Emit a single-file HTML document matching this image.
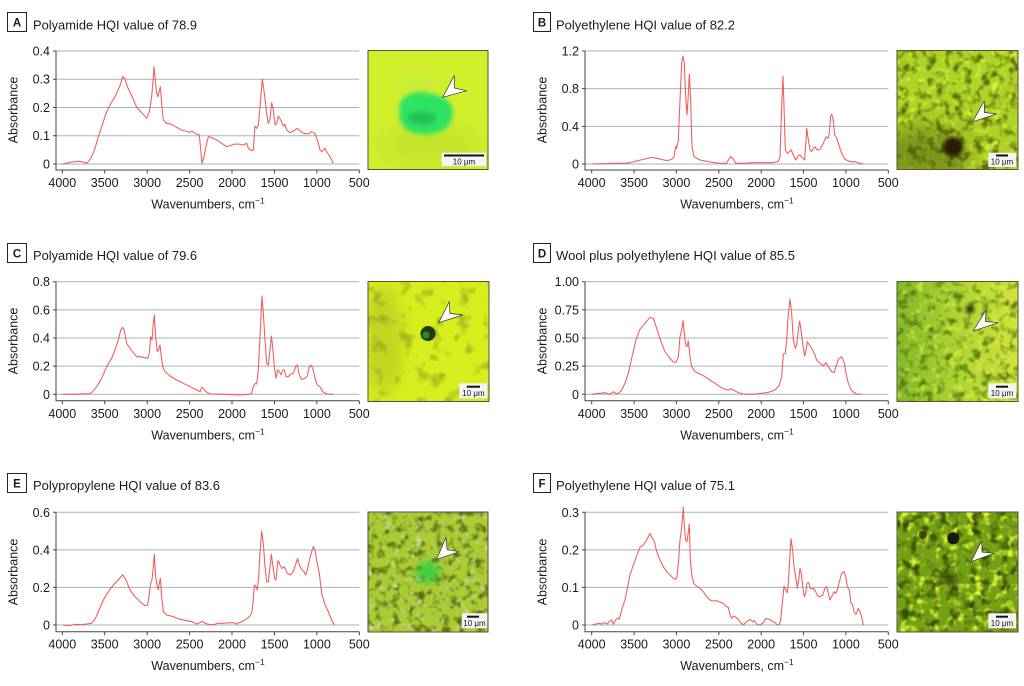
<!DOCTYPE html>
<html><head><meta charset="utf-8"><style>
html,body{margin:0;padding:0;background:#fff}
svg{display:block}
text{font-family:"Liberation Sans",sans-serif;fill:#1a1a1a}
.t{font-size:13px}
.lb{font-size:11.5px;font-weight:bold}
.tk{font-size:12.5px}
.ax{font-size:12.5px}
.g{stroke:#a3b3bb;stroke-width:1}
.a{stroke:#444;stroke-width:1;fill:none}
.s{fill:none;stroke:#f25c5c;stroke-width:3.2;stroke-linejoin:round}
.sb{font-size:8px;fill:#111}
filter{color-interpolation-filters:sRGB}
</style></head><body>
<svg width="1024" height="686" viewBox="0 0 1024 686" xmlns="http://www.w3.org/2000/svg">
<defs>
<filter id="bl2" x="-50%" y="-50%" width="200%" height="200%" color-interpolation-filters="sRGB"><feGaussianBlur stdDeviation="2"/></filter>
<filter id="bl4" x="-50%" y="-50%" width="200%" height="200%" color-interpolation-filters="sRGB"><feGaussianBlur stdDeviation="4"/></filter>
<filter id="bl7" x="-50%" y="-50%" width="200%" height="200%" color-interpolation-filters="sRGB"><feGaussianBlur stdDeviation="7"/></filter>
<filter id="bl10" x="-50%" y="-50%" width="200%" height="200%" color-interpolation-filters="sRGB"><feGaussianBlur stdDeviation="10"/></filter>
<filter id="dkB" x="0" y="0" width="1" height="1" color-interpolation-filters="sRGB"><feTurbulence type="fractalNoise" baseFrequency="0.11" numOctaves="2" seed="3"/><feColorMatrix type="matrix" values="0 0 0 0 0.36  0 0 0 0 0.44  0 0 0 0 0.04  3.5 0 0 0 -1.65"/></filter>
<filter id="ltB" x="0" y="0" width="1" height="1" color-interpolation-filters="sRGB"><feTurbulence type="fractalNoise" baseFrequency="0.12" numOctaves="2" seed="9"/><feColorMatrix type="matrix" values="0 0 0 0 0.82  0 0 0 0 0.94  0 0 0 0 0.2  0 4 0 0 -2.2"/></filter>
<filter id="dkC" x="0" y="0" width="1" height="1" color-interpolation-filters="sRGB"><feTurbulence type="fractalNoise" baseFrequency="0.07" numOctaves="2" seed="5"/><feColorMatrix type="matrix" values="0 0 0 0 0.6  0 0 0 0 0.6  0 0 0 0 0.12  3.5 0 0 0 -1.9"/></filter>
<filter id="dkD" x="0" y="0" width="1" height="1" color-interpolation-filters="sRGB"><feTurbulence type="fractalNoise" baseFrequency="0.11" numOctaves="2" seed="7"/><feColorMatrix type="matrix" values="0 0 0 0 0.3  0 0 0 0 0.45  0 0 0 0 0.05  3.5 0 0 0 -1.7"/></filter>
<filter id="ltD" x="0" y="0" width="1" height="1" color-interpolation-filters="sRGB"><feTurbulence type="fractalNoise" baseFrequency="0.12" numOctaves="2" seed="21"/><feColorMatrix type="matrix" values="0 0 0 0 0.86  0 0 0 0 0.95  0 0 0 0 0.25  0 4 0 0 -2.2"/></filter>
<filter id="dkE" x="0" y="0" width="1" height="1" color-interpolation-filters="sRGB"><feTurbulence type="fractalNoise" baseFrequency="0.12" numOctaves="2" seed="11"/><feColorMatrix type="matrix" values="0 0 0 0 0.38  0 0 0 0 0.45  0 0 0 0 0.08  3.5 0 0 0 -1.7"/></filter>
<filter id="ltE" x="0" y="0" width="1" height="1" color-interpolation-filters="sRGB"><feTurbulence type="fractalNoise" baseFrequency="0.13" numOctaves="2" seed="13"/><feColorMatrix type="matrix" values="0 0 0 0 0.8  0 0 0 0 0.83  0 0 0 0 0.7  0 4 0 0 -2.4"/></filter>
<filter id="dkF" x="0" y="0" width="1" height="1" color-interpolation-filters="sRGB"><feTurbulence type="fractalNoise" baseFrequency="0.1" numOctaves="2" seed="17"/><feColorMatrix type="matrix" values="0 0 0 0 0.2  0 0 0 0 0.3  0 0 0 0 0.02  3.5 0 0 0 -1.7"/></filter>
<filter id="ltF" x="0" y="0" width="1" height="1" color-interpolation-filters="sRGB"><feTurbulence type="fractalNoise" baseFrequency="0.12" numOctaves="2" seed="19"/><feColorMatrix type="matrix" values="0 0 0 0 0.85  0 0 0 0 0.95  0 0 0 0 0.2  0 4 0 0 -2.1"/></filter>
<linearGradient id="gD" x1="0" y1="0" x2="1" y2="0"><stop offset="0" stop-color="#82b82a"/><stop offset="0.45" stop-color="#aad232"/><stop offset="1" stop-color="#d2e23a"/></linearGradient>
<clipPath id="cA"><rect x="368" y="50.5" width="120" height="119"/></clipPath>
<clipPath id="cB"><rect x="897" y="50.5" width="121" height="119"/></clipPath>
<clipPath id="cC"><rect x="368" y="281.5" width="121" height="120"/></clipPath>
<clipPath id="cD"><rect x="897" y="281.5" width="121" height="120"/></clipPath>
<clipPath id="cE"><rect x="368" y="512" width="120" height="120"/></clipPath>
<clipPath id="cF"><rect x="897" y="512" width="121" height="120"/></clipPath>
</defs>
<rect width="1024" height="686" fill="#fff"/>

<!-- ============ PANEL A ============ -->
<rect x="7.5" y="12.5" width="19" height="19" fill="#fff" stroke="#222"/>
<text class="lb" x="17" y="26.5" text-anchor="middle">A</text>
<text class="t" x="33" y="29.3" textLength="164" lengthAdjust="spacingAndGlyphs">Polyamide HQI value of 78.9</text>
<g>
<line class="g" x1="56" x2="359.3" y1="51" y2="51"/><line class="g" x1="56" x2="359.3" y1="79.25" y2="79.25"/><line class="g" x1="56" x2="359.3" y1="107.5" y2="107.5"/><line class="g" x1="56" x2="359.3" y1="135.75" y2="135.75"/><line class="g" x1="56" x2="359.3" y1="164" y2="164"/>
<path class="a" d="M56,51V170H359.3M53,51H56M53,79.25H56M53,107.5H56M53,135.75H56M53,164H56M62.3,170v3.5M104.7,170v3.5M147.2,170v3.5M189.6,170v3.5M232,170v3.5M274.5,170v3.5M316.9,170v3.5M359.3,170v3.5"/>
<g class="tk" text-anchor="end"><text x="50" y="55.5">0.4</text><text x="50" y="83.7">0.3</text><text x="50" y="112">0.2</text><text x="50" y="140.2">0.1</text><text x="50" y="168.5">0</text></g>
<g class="tk" text-anchor="middle"><text x="62.3" y="187">4000</text><text x="104.7" y="187">3500</text><text x="147.2" y="187">3000</text><text x="189.6" y="187">2500</text><text x="232" y="187">2000</text><text x="274.5" y="187">1500</text><text x="316.9" y="187">1000</text><text x="359.3" y="187">500</text></g>
<text class="ax" transform="translate(17.5,110) rotate(-90)" text-anchor="middle">Absorbance</text>
<text class="ax" x="208" y="208.5" text-anchor="middle">Wavenumbers, cm<tspan font-size="8.5" dy="-5">−1</tspan></text>
<g transform="translate(0,0) scale(0.33333)"><polyline class="s" points="187,492 215,486 240,484 255,488 262,489 275,470 285,445 295,410 305,380 318,340 330,315 345,290 360,258 368,230 375,236 382,260 395,287 410,322 425,338 440,355 448,335 455,290 460,232 462,200 466,240 470,280 474,290 478,272 481,260 485,310 490,360 500,370 515,373 530,382 545,390 560,394 570,397 575,393 585,400 598,405 606,490 612,470 620,430 625,410 635,413 650,420 665,430 680,440 690,437 700,433 715,432 730,435 740,430 745,445 755,452 760,450 765,378 770,385 775,375 780,320 787,237 793,280 800,340 805,370 810,358 815,308 820,330 825,375 830,370 835,348 842,360 850,378 855,373 860,390 870,398 880,393 893,385 900,393 912,400 925,402 935,395 945,400 955,430 960,450 965,455 970,450 975,445 980,455 990,470 1000,490"/></g>
</g>
<g clip-path="url(#cA)">
<rect x="368" y="50.5" width="120" height="119" fill="#d2ef2c"/>
<ellipse cx="430" cy="145" rx="50" ry="22" fill="#b4d82c" opacity="0.45" filter="url(#bl10)"/>
<ellipse cx="418" cy="84" rx="22" ry="12" fill="#b8e850" opacity="0.35" filter="url(#bl7)"/>
<path d="M400,104 C404,92 420,90 432,94 C446,96 456,104 452,118 C450,130 436,136 420,134 C406,133 396,124 400,104 Z" fill="#2ee262" filter="url(#bl2)"/>
<ellipse cx="422" cy="118" rx="14" ry="6" fill="#18a84c" opacity="0.6" filter="url(#bl2)"/>
</g>
<rect x="368" y="50.5" width="120" height="119" fill="none" stroke="#55553a"/>
<polygon points="442.7,97.3 454.3,75.3 454.3,88 466.7,90.7" fill="#fff" stroke="#333" stroke-width="0.7"/>
<rect x="441.7" y="152.7" width="44.3" height="13.3" fill="#f4f4f4"/>
<line x1="444" x2="484" y1="155.5" y2="155.5" stroke="#111" stroke-width="2"/>
<text class="sb" x="464" y="164.3" text-anchor="middle">10 μm</text>

<!-- ============ PANEL B ============ -->
<rect x="533.5" y="12.5" width="17" height="19" fill="#fff" stroke="#222"/>
<text class="lb" x="542" y="26.5" text-anchor="middle">B</text>
<text class="t" x="556" y="29.3" textLength="179" lengthAdjust="spacingAndGlyphs">Polyethylene HQI value of 82.2</text>
<g>
<line class="g" x1="585" x2="888.3" y1="51" y2="51"/><line class="g" x1="585" x2="888.3" y1="88.67" y2="88.67"/><line class="g" x1="585" x2="888.3" y1="126.33" y2="126.33"/><line class="g" x1="585" x2="888.3" y1="164" y2="164"/>
<path class="a" d="M585,51V170H888.3M582,51H585M582,88.67H585M582,126.33H585M582,164H585M591.7,170v3.5M634.1,170v3.5M676.4,170v3.5M718.8,170v3.5M761.2,170v3.5M803.5,170v3.5M845.9,170v3.5M888.3,170v3.5"/>
<g class="tk" text-anchor="end"><text x="579" y="55.5">1.2</text><text x="579" y="93.2">0.8</text><text x="579" y="130.8">0.4</text><text x="579" y="168.5">0</text></g>
<g class="tk" text-anchor="middle"><text x="591.7" y="187">4000</text><text x="634.1" y="187">3500</text><text x="676.4" y="187">3000</text><text x="718.8" y="187">2500</text><text x="761.2" y="187">2000</text><text x="803.5" y="187">1500</text><text x="845.9" y="187">1000</text><text x="888.3" y="187">500</text></g>
<text class="ax" transform="translate(546.5,110) rotate(-90)" text-anchor="middle">Absorbance</text>
<text class="ax" x="737" y="208.5" text-anchor="middle">Wavenumbers, cm<tspan font-size="8.5" dy="-5">−1</tspan></text>
<g transform="translate(530,0) scale(0.33333)"><polyline class="s" points="185,492 220,491 250,490 280,490 300,488 320,483 340,478 365,472 385,476 410,482 425,478 432,470 437,440 440,445 445,420 450,300 455,190 459,168 463,190 467,290 471,345 474,300 478,222 482,300 486,440 492,470 510,480 540,486 570,490 590,490 598,475 603,470 608,475 612,480 617,490 640,490 670,488 700,488 730,488 745,484 750,470 755,320 759,228 762,320 766,450 772,460 778,455 784,450 790,465 797,480 805,467 810,465 818,475 824,480 828,420 830,385 835,420 840,450 845,455 850,445 855,440 860,448 868,450 875,440 882,425 888,410 894,415 898,400 902,350 905,343 910,360 914,405 918,410 922,420 928,440 935,460 945,478 960,485 975,485 990,490 1000,492"/></g>
</g>
<g clip-path="url(#cB)">
<rect x="897" y="50.5" width="121" height="119" fill="#aed226"/>
<rect x="897" y="50.5" width="121" height="119" filter="url(#dkB)"/>
<rect x="897" y="50.5" width="121" height="119" filter="url(#ltB)"/>
<ellipse cx="925" cy="155" rx="45" ry="30" fill="#4a5a10" opacity="0.5" filter="url(#bl10)"/>
<circle cx="953" cy="147" r="10" fill="#2a1a08" filter="url(#bl2)"/>
</g>
<rect x="897" y="50.5" width="121" height="119" fill="none" stroke="#55553a"/>
<polygon points="972.7,121.7 984.3,100.7 984.3,112.4 996.7,114" fill="#fff" stroke="#333" stroke-width="0.7"/>
<rect x="988.3" y="152.7" width="27.7" height="14.3" fill="#f4f4f4"/>
<line x1="996" x2="1008" y1="155.5" y2="155.5" stroke="#111" stroke-width="2"/>
<text class="sb" x="1002" y="164.5" text-anchor="middle">10 μm</text>

<!-- ============ PANEL C ============ -->
<rect x="7.5" y="243.5" width="19" height="19" fill="#fff" stroke="#222"/>
<text class="lb" x="17" y="257.5" text-anchor="middle">C</text>
<text class="t" x="33" y="260" textLength="164" lengthAdjust="spacingAndGlyphs">Polyamide HQI value of 79.6</text>
<g>
<line class="g" x1="56" x2="359.3" y1="281.7" y2="281.7"/><line class="g" x1="56" x2="359.3" y1="309.85" y2="309.85"/><line class="g" x1="56" x2="359.3" y1="338" y2="338"/><line class="g" x1="56" x2="359.3" y1="366.15" y2="366.15"/><line class="g" x1="56" x2="359.3" y1="394.3" y2="394.3"/>
<path class="a" d="M56,281.7V400.7H359.3M53,281.7H56M53,309.85H56M53,338H56M53,366.15H56M53,394.3H56M62.3,400.7v3.5M104.7,400.7v3.5M147.2,400.7v3.5M189.6,400.7v3.5M232,400.7v3.5M274.5,400.7v3.5M316.9,400.7v3.5M359.3,400.7v3.5"/>
<g class="tk" text-anchor="end"><text x="50" y="286.2">0.8</text><text x="50" y="314.4">0.6</text><text x="50" y="342.5">0.4</text><text x="50" y="370.7">0.2</text><text x="50" y="398.8">0</text></g>
<g class="tk" text-anchor="middle"><text x="62.3" y="418">4000</text><text x="104.7" y="418">3500</text><text x="147.2" y="418">3000</text><text x="189.6" y="418">2500</text><text x="232" y="418">2000</text><text x="274.5" y="418">1500</text><text x="316.9" y="418">1000</text><text x="359.3" y="418">500</text></g>
<text class="ax" transform="translate(17.5,341) rotate(-90)" text-anchor="middle">Absorbance</text>
<text class="ax" x="208" y="439.5" text-anchor="middle">Wavenumbers, cm<tspan font-size="8.5" dy="-5">−1</tspan></text>
<g transform="translate(0,230) scale(0.33333)"><polyline class="s" points="187,493 230,493 255,491 265,492 275,488 290,470 305,445 320,410 335,385 345,360 355,330 362,300 368,292 372,298 380,340 390,355 400,368 410,380 420,380 430,382 443,385 448,370 452,320 456,330 460,280 463,255 467,320 472,365 476,360 480,345 484,380 488,410 495,425 510,438 530,450 550,460 570,470 590,480 600,485 605,472 610,475 618,485 630,492 680,493 720,495 745,493 755,490 760,470 766,460 770,462 775,420 780,320 786,198 790,250 795,330 800,400 805,405 810,360 814,318 818,350 823,410 828,445 833,420 838,425 843,435 848,420 853,420 858,440 865,440 873,432 880,430 888,408 892,405 898,435 905,448 915,445 922,438 928,410 933,405 940,420 945,445 952,465 960,470 968,485 980,492 1000,493"/></g>
</g>
<g clip-path="url(#cC)">
<rect x="368" y="281.5" width="121" height="120" fill="#d6ee1e"/>
<rect x="368" y="281.5" width="121" height="120" filter="url(#dkC)" opacity="0.8"/>
<ellipse cx="383" cy="340" rx="20" ry="55" fill="#9a9a2a" opacity="0.3" filter="url(#bl7)"/>
<circle cx="428" cy="333.5" r="7.5" fill="#1e3a10"/>
<circle cx="426" cy="335" r="3.5" fill="#3a9a30" opacity="0.8"/>
</g>
<rect x="368" y="281.5" width="121" height="120" fill="none" stroke="#55553a"/>
<polygon points="438.7,322.7 449.3,301.7 449.9,313.4 462.7,315" fill="#fff" stroke="#333" stroke-width="0.7"/>
<rect x="459.3" y="383.3" width="28" height="15" fill="#f4f4f4"/>
<line x1="466.7" x2="480" y1="386.7" y2="386.7" stroke="#111" stroke-width="2"/>
<text class="sb" x="473.5" y="396" text-anchor="middle">10 μm</text>

<!-- ============ PANEL D ============ -->
<rect x="533.5" y="243.5" width="17" height="19" fill="#fff" stroke="#222"/>
<text class="lb" x="542" y="257.5" text-anchor="middle">D</text>
<text class="t" x="556" y="260" textLength="239" lengthAdjust="spacingAndGlyphs">Wool plus polyethylene HQI value of 85.5</text>
<g>
<line class="g" x1="585" x2="888.3" y1="281.7" y2="281.7"/><line class="g" x1="585" x2="888.3" y1="309.85" y2="309.85"/><line class="g" x1="585" x2="888.3" y1="338" y2="338"/><line class="g" x1="585" x2="888.3" y1="366.15" y2="366.15"/><line class="g" x1="585" x2="888.3" y1="394.3" y2="394.3"/>
<path class="a" d="M585,281.7V400.7H888.3M582,281.7H585M582,309.85H585M582,338H585M582,366.15H585M582,394.3H585M591.7,400.7v3.5M634.1,400.7v3.5M676.4,400.7v3.5M718.8,400.7v3.5M761.2,400.7v3.5M803.5,400.7v3.5M845.9,400.7v3.5M888.3,400.7v3.5"/>
<g class="tk" text-anchor="end"><text x="579" y="286.2">1.00</text><text x="579" y="314.4">0.75</text><text x="579" y="342.5">0.50</text><text x="579" y="370.7">0.25</text><text x="579" y="398.8">0</text></g>
<g class="tk" text-anchor="middle"><text x="591.7" y="418">4000</text><text x="634.1" y="418">3500</text><text x="676.4" y="418">3000</text><text x="718.8" y="418">2500</text><text x="761.2" y="418">2000</text><text x="803.5" y="418">1500</text><text x="845.9" y="418">1000</text><text x="888.3" y="418">500</text></g>
<text class="ax" transform="translate(546.5,341) rotate(-90)" text-anchor="middle">Absorbance</text>
<text class="ax" x="737" y="439.5" text-anchor="middle">Wavenumbers, cm<tspan font-size="8.5" dy="-5">−1</tspan></text>
<g transform="translate(530,230) scale(0.33333)"><polyline class="s" points="185,493 210,490 225,488 240,493 250,485 260,492 272,485 285,460 295,430 305,385 318,330 330,298 345,280 360,262 370,265 380,295 393,335 405,365 420,385 430,396 438,397 445,380 450,320 455,300 459,272 463,310 467,345 471,350 475,333 480,380 485,410 495,425 510,432 525,440 540,450 555,460 570,470 585,478 595,480 603,476 610,480 625,488 645,493 670,493 695,490 715,487 735,480 748,466 755,440 760,372 766,370 770,330 775,250 780,207 785,250 790,330 796,355 800,345 805,300 809,273 813,300 818,340 824,378 828,360 832,335 838,345 845,355 850,365 855,375 860,390 870,400 880,408 888,398 895,410 905,425 912,428 918,410 925,388 935,380 942,395 948,430 955,460 965,482 980,492 995,493"/></g>
</g>
<g clip-path="url(#cD)">
<rect x="897" y="281.5" width="121" height="120" fill="url(#gD)"/>
<rect x="897" y="281.5" width="121" height="120" filter="url(#dkD)" opacity="0.85"/>
<rect x="897" y="281.5" width="121" height="120" filter="url(#ltD)" opacity="0.7"/>
<circle cx="970" cy="309" r="4" fill="#1a1a08" filter="url(#bl2)"/>
</g>
<rect x="897" y="281.5" width="121" height="120" fill="none" stroke="#55553a"/>
<polygon points="973.3,331 986,310 985.5,321.5 998.3,322.7" fill="#fff" stroke="#333" stroke-width="0.7"/>
<rect x="988.3" y="383.3" width="27.7" height="15" fill="#f4f4f4"/>
<line x1="996" x2="1008" y1="386.7" y2="386.7" stroke="#111" stroke-width="2"/>
<text class="sb" x="1002" y="396" text-anchor="middle">10 μm</text>

<!-- ============ PANEL E ============ -->
<rect x="7.5" y="473.5" width="19" height="19" fill="#fff" stroke="#222"/>
<text class="lb" x="17" y="487.5" text-anchor="middle">E</text>
<text class="t" x="33" y="490" textLength="187" lengthAdjust="spacingAndGlyphs">Polypropylene HQI value of 83.6</text>
<g>
<line class="g" x1="56" x2="359.3" y1="512.3" y2="512.3"/><line class="g" x1="56" x2="359.3" y1="549.87" y2="549.87"/><line class="g" x1="56" x2="359.3" y1="587.43" y2="587.43"/><line class="g" x1="56" x2="359.3" y1="625" y2="625"/>
<path class="a" d="M56,512.3V631.7H359.3M53,512.3H56M53,549.87H56M53,587.43H56M53,625H56M62.3,631.7v3.5M104.7,631.7v3.5M147.2,631.7v3.5M189.6,631.7v3.5M232,631.7v3.5M274.5,631.7v3.5M316.9,631.7v3.5M359.3,631.7v3.5"/>
<g class="tk" text-anchor="end"><text x="50" y="516.8">0.6</text><text x="50" y="554.4">0.4</text><text x="50" y="592">0.2</text><text x="50" y="629.5">0</text></g>
<g class="tk" text-anchor="middle"><text x="62.3" y="648.5">4000</text><text x="104.7" y="648.5">3500</text><text x="147.2" y="648.5">3000</text><text x="189.6" y="648.5">2500</text><text x="232" y="648.5">2000</text><text x="274.5" y="648.5">1500</text><text x="316.9" y="648.5">1000</text><text x="359.3" y="648.5">500</text></g>
<text class="ax" transform="translate(17.5,572) rotate(-90)" text-anchor="middle">Absorbance</text>
<text class="ax" x="208" y="670" text-anchor="middle">Wavenumbers, cm<tspan font-size="8.5" dy="-5">−1</tspan></text>
<g transform="translate(0,460) scale(0.33333)"><polyline class="s" points="187,495 210,497 225,493 245,494 260,492 275,490 285,478 295,455 310,420 325,395 340,375 355,360 368,344 378,360 390,390 405,410 420,425 435,437 443,435 447,410 452,370 456,360 460,320 463,283 467,350 472,380 475,390 478,370 481,355 485,410 490,455 500,465 520,470 540,478 560,482 575,485 590,492 600,488 607,484 615,490 630,494 645,493 652,490 665,490 680,489 700,488 710,492 720,487 735,480 748,470 755,460 760,420 763,375 768,380 772,390 776,350 780,280 785,213 790,250 795,320 800,365 805,365 810,320 814,283 819,320 824,355 828,360 833,305 836,303 840,315 846,325 852,320 857,328 862,340 870,345 880,335 888,310 893,295 898,315 905,328 912,335 917,345 922,330 928,300 935,275 940,260 945,270 950,300 958,340 965,400 975,435 985,455 995,480 1003,495"/></g>
</g>
<g clip-path="url(#cE)">
<rect x="368" y="512" width="120" height="120" fill="#aacb34"/>
<rect x="368" y="512" width="120" height="120" filter="url(#dkE)"/>
<rect x="368" y="512" width="120" height="120" filter="url(#ltE)"/>
<ellipse cx="428" cy="572" rx="12" ry="11" fill="#2ed040" opacity="0.85" filter="url(#bl4)"/>
</g>
<rect x="368" y="512" width="120" height="120" fill="none" stroke="#55553a"/>
<polygon points="436.7,559.3 446,537.3 447.1,549.7 459.3,551.7" fill="#fff" stroke="#333" stroke-width="0.7"/>
<rect x="461.7" y="613.3" width="25.6" height="15" fill="#f4f4f4"/>
<line x1="467" x2="479" y1="616.7" y2="616.7" stroke="#111" stroke-width="2"/>
<text class="sb" x="474.5" y="626" text-anchor="middle">10 μm</text>

<!-- ============ PANEL F ============ -->
<rect x="533.5" y="473.5" width="17" height="19" fill="#fff" stroke="#222"/>
<text class="lb" x="542" y="487.5" text-anchor="middle">F</text>
<text class="t" x="556" y="490" textLength="179" lengthAdjust="spacingAndGlyphs">Polyethylene HQI value of 75.1</text>
<g>
<line class="g" x1="585" x2="888.3" y1="512.3" y2="512.3"/><line class="g" x1="585" x2="888.3" y1="549.87" y2="549.87"/><line class="g" x1="585" x2="888.3" y1="587.43" y2="587.43"/><line class="g" x1="585" x2="888.3" y1="625" y2="625"/>
<path class="a" d="M585,512.3V631.7H888.3M582,512.3H585M582,549.87H585M582,587.43H585M582,625H585M591.7,631.7v3.5M634.1,631.7v3.5M676.4,631.7v3.5M718.8,631.7v3.5M761.2,631.7v3.5M803.5,631.7v3.5M845.9,631.7v3.5M888.3,631.7v3.5"/>
<g class="tk" text-anchor="end"><text x="579" y="516.8">0.3</text><text x="579" y="554.4">0.2</text><text x="579" y="592">0.1</text><text x="579" y="629.5">0</text></g>
<g class="tk" text-anchor="middle"><text x="591.7" y="648.5">4000</text><text x="634.1" y="648.5">3500</text><text x="676.4" y="648.5">3000</text><text x="718.8" y="648.5">2500</text><text x="761.2" y="648.5">2000</text><text x="803.5" y="648.5">1500</text><text x="845.9" y="648.5">1000</text><text x="888.3" y="648.5">500</text></g>
<text class="ax" transform="translate(546.5,572) rotate(-90)" text-anchor="middle">Absorbance</text>
<text class="ax" x="737" y="670" text-anchor="middle">Wavenumbers, cm<tspan font-size="8.5" dy="-5">−1</tspan></text>
<g transform="translate(530,460) scale(0.33333)"><polyline class="s" points="185,495 195,493 205,490 215,492 225,488 232,492 240,482 245,480 250,493 257,480 263,474 268,478 275,450 285,420 295,370 300,345 310,315 320,288 330,262 340,255 350,240 360,220 366,234 372,240 380,275 390,300 400,320 410,335 420,345 430,355 437,358 441,350 446,300 450,240 453,220 456,190 460,142 463,200 467,240 471,245 475,215 478,193 481,300 486,350 492,372 500,378 510,385 520,395 530,410 540,420 550,423 560,422 570,426 580,430 590,440 595,442 600,465 605,475 610,468 618,472 625,478 632,488 640,495 650,485 660,478 668,485 673,482 680,492 690,495 700,488 708,475 718,478 725,483 735,488 740,493 748,495 752,480 757,430 762,378 767,390 772,398 775,370 779,300 783,236 788,270 792,320 797,350 802,385 806,360 810,325 814,340 818,380 823,410 827,400 831,370 836,368 841,385 846,388 851,385 857,395 863,408 870,410 878,405 885,385 890,380 895,400 900,420 905,410 912,395 917,400 922,390 928,365 935,340 942,335 947,348 952,380 958,390 963,430 968,435 972,455 978,463 985,445 990,455 995,470 1000,495"/></g>
</g>
<g clip-path="url(#cF)">
<rect x="897" y="512" width="121" height="120" fill="#74a016"/>
<rect x="897" y="512" width="121" height="120" filter="url(#dkF)"/>
<rect x="897" y="512" width="121" height="120" filter="url(#ltF)"/>
<circle cx="953.3" cy="538.3" r="6" fill="#1a1a08"/>
<circle cx="923" cy="535" r="4" fill="#2a2a08" opacity="0.8"/>
<ellipse cx="948" cy="580" rx="10" ry="8" fill="#2a3808" opacity="0.7" filter="url(#bl4)"/>
</g>
<rect x="897" y="512" width="121" height="120" fill="none" stroke="#55553a"/>
<polygon points="971,561.7 981.7,540.7 982,552.1 994.3,553.3" fill="#fff" stroke="#333" stroke-width="0.7"/>
<rect x="988.3" y="613.3" width="27.7" height="15" fill="#f4f4f4"/>
<line x1="996" x2="1008" y1="616.7" y2="616.7" stroke="#111" stroke-width="2"/>
<text class="sb" x="1002" y="626" text-anchor="middle">10 μm</text>
</svg>
</body></html>
